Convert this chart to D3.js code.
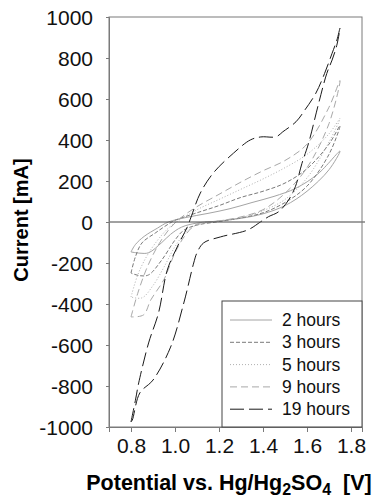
<!DOCTYPE html>
<html>
<head>
<meta charset="utf-8">
<title>Cyclic voltammograms</title>
<script src="https://cdn.jsdelivr.net/npm/d3@7"></script>
<style>
  body { margin: 0; background: #fff; }
  svg { display: block; font-family: "Liberation Sans", Arial, sans-serif; }
</style>
</head>
<body>
<svg id="chart" width="375" height="498"></svg>
<script>
// ---- data (potential V, current mA) ----
var seriesNames = ["2 hours", "3 hours", "5 hours", "9 hours", "19 hours"];
var xTicks = [0.8, 1.0, 1.2, 1.4, 1.6, 1.8];
var yTicks = [-1000, -800, -600, -400, -200, 0, 200, 400, 600, 800, 1000];

// anodic sweep (0.8 -> 1.75) and cathodic sweep (1.75 -> 0.8)
var anodic2h = [[0.80,-146],[0.82,-110],[0.86,-70],[0.92,-30],[0.97,0],[1.05,22],[1.15,42],[1.25,65],[1.35,95],[1.45,125],[1.55,165],[1.65,235],[1.75,346]];
var cathodic2h = [[1.75,346],[1.70,255],[1.60,150],[1.50,80],[1.40,40],[1.30,18],[1.20,5],[1.10,-5],[1.03,-25],[0.98,-60],[0.94,-100],[0.88,-150],[0.84,-152],[0.80,-146]];

var anodic3h = [[0.80,-249],[0.82,-170],[0.85,-102],[0.91,-54],[0.97,-10],[1.00,8],[1.10,45],[1.20,80],[1.30,120],[1.40,150],[1.50,190],[1.60,260],[1.70,380],[1.75,470]];
var cathodic3h = [[1.75,470],[1.70,330],[1.60,175],[1.50,95],[1.40,45],[1.30,20],[1.20,2],[1.10,-15],[1.04,-40],[1.00,-88],[0.94,-185],[0.88,-258],[0.84,-262],[0.80,-249]];

var anodic5h = [[0.80,-366],[0.83,-260],[0.87,-170],[0.92,-90],[0.97,-30],[1.02,10],[1.10,60],[1.20,110],[1.30,160],[1.40,210],[1.50,265],[1.60,330],[1.70,430],[1.75,505]];
var cathodic5h = [[1.75,505],[1.70,390],[1.60,215],[1.50,110],[1.40,55],[1.30,22],[1.20,5],[1.10,-15],[1.05,-50],[1.00,-120],[0.95,-220],[0.90,-310],[0.85,-370],[0.80,-366]];

var anodic9h = [[0.80,-463],[0.83,-350],[0.87,-230],[0.92,-120],[0.97,-40],[1.02,15],[1.10,75],[1.20,135],[1.30,195],[1.40,250],[1.50,300],[1.60,380],[1.70,560],[1.75,690]];
var cathodic9h = [[1.75,690],[1.70,480],[1.60,265],[1.50,140],[1.40,60],[1.30,25],[1.20,5],[1.10,-10],[1.05,-60],[1.00,-150],[0.95,-280],[0.89,-380],[0.857,-453],[0.80,-463]];

var anodic19h = [[0.80,-975],[0.82,-870],[0.835,-785],[0.88,-590],[0.925,-444],[0.965,-234],[1.01,-122],[1.056,-24],[1.075,30],[1.115,141],[1.174,239],[1.266,336],[1.342,400],[1.39,415],[1.46,416],[1.49,440],[1.55,489],[1.59,546],[1.64,628],[1.68,725],[1.714,823],[1.736,888],[1.75,946]];
var cathodic19h = [[1.75,946],[1.735,860],[1.714,790],[1.69,725],[1.653,579],[1.607,384],[1.577,286],[1.547,172],[1.516,107],[1.471,50],[1.425,26],[1.388,0],[1.33,-39],[1.206,-73],[1.13,-102],[1.10,-150],[1.085,-200],[1.04,-395],[0.98,-610],[0.90,-771],[0.84,-834],[0.806,-966],[0.80,-975]];

var loops = [
  anodic2h.concat(cathodic2h.slice(1)),
  anodic3h.concat(cathodic3h.slice(1)),
  anodic5h.concat(cathodic5h.slice(1)),
  anodic9h.concat(cathodic9h.slice(1)),
  anodic19h.concat(cathodic19h.slice(1))
];

// line styles, same order as seriesNames
var strokes = ["#a4a4a4", "#7a7a7a", "#b0b0b0", "#a8a8a8", "#1a1a1a"];
var dashes = [null, "4,2", "1,2", "7,4", "14,5"];

var svg = d3.select("#chart");
var plotLeft = 109, plotRight = 362, plotTop = 17, plotBottom = 427;

var x = d3.scaleLinear().domain([0.7, 1.85]).range([plotLeft, plotRight]);
var y = d3.scaleLinear().domain([-1000, 1000]).range([plotBottom, plotTop]);

// curves
var line = d3.line()
    .x(function(d) { return x(d[0]); })
    .y(function(d) { return y(d[1]); })
    .curve(d3.curveCatmullRom.alpha(0.5));

svg.append("g").selectAll("path")
  .data(loops)
  .enter().append("path")
    .attr("d", line)
    .attr("fill", "none")
    .attr("stroke", function(d, i) { return strokes[i]; })
    .attr("stroke-width", 1)
    .attr("stroke-dasharray", function(d, i) { return dashes[i]; });

// zero line
svg.append("line")
  .attr("x1", plotLeft).attr("x2", plotRight + 3)
  .attr("y1", y(0)).attr("y2", y(0))
  .attr("stroke", "#444").attr("stroke-width", 1);

// frame
svg.append("rect")
  .attr("x", plotLeft).attr("y", plotTop)
  .attr("width", plotRight - plotLeft).attr("height", plotBottom - plotTop)
  .attr("fill", "none").attr("stroke", "#7a7a7a").attr("stroke-width", 1);

// axes
var xAxis = svg.append("g")
  .attr("transform", "translate(0," + plotBottom + ")")
  .call(d3.axisBottom(x).tickValues(xTicks).tickSize(5).tickPadding(6)
        .tickFormat(d3.format(".1f")));
var yAxis = svg.append("g")
  .attr("transform", "translate(" + plotLeft + ",0)")
  .call(d3.axisLeft(y).tickValues(yTicks).tickSize(3).tickPadding(13)
        .tickFormat(function(d) { return String(d); }));

[xAxis, yAxis].forEach(function(g) {
  g.select(".domain").attr("stroke", "#7a7a7a");
  g.selectAll(".tick line").attr("stroke", "#7a7a7a");
  g.selectAll(".tick text")
    .attr("fill", "#111")
    .style("font-size", "21px")
    .style("font-family", "'Liberation Sans', Arial, sans-serif");
});
yAxis.selectAll(".tick text").attr("dy", "0.36em");

// legend
var lg = svg.append("g");
lg.append("rect")
  .attr("x", 222).attr("y", 301)
  .attr("width", plotRight - 222).attr("height", plotBottom - 301)
  .attr("fill", "#fff").attr("stroke", "#444").attr("stroke-width", 1);

var rows = lg.selectAll("g.row")
  .data(seriesNames)
  .enter().append("g")
    .attr("class", "row")
    .attr("transform", function(d, i) { return "translate(0," + (320 + i * 22.3) + ")"; });

rows.append("line")
  .attr("x1", 230).attr("x2", 272)
  .attr("stroke", function(d, i) { return strokes[i]; })
  .attr("stroke-width", 1)
  .attr("stroke-dasharray", function(d, i) { return dashes[i]; });

rows.append("text")
  .attr("x", 282).attr("dy", "0.35em")
  .style("font-size", "17.5px")
  .attr("fill", "#111")
  .text(function(d) { return d; });

// axis titles
svg.append("text")
  .attr("transform", "translate(28,220) rotate(-90)")
  .attr("text-anchor", "middle")
  .style("font-size", "20px").style("font-weight", "bold")
  .text("Current [mA]");

var xt = svg.append("text")
  .attr("x", 229).attr("y", 490)
  .attr("text-anchor", "middle")
  .style("font-size", "21.5px").style("font-weight", "bold");
xt.append("tspan").text("Potential vs. Hg/Hg");
xt.append("tspan").attr("dy", 5).style("font-size", "16px").text("2");
xt.append("tspan").attr("dy", -5).text("SO");
xt.append("tspan").attr("dy", 5).style("font-size", "16px").text("4");
xt.append("tspan").attr("dy", -5).attr("xml:space", "preserve").text("  [V]");
</script>
</body>
</html>
